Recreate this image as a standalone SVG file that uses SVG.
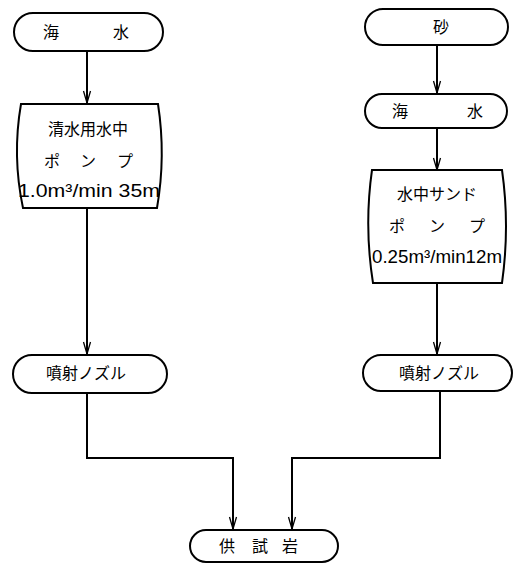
<svg xmlns="http://www.w3.org/2000/svg" width="516" height="563" viewBox="0 0 516 563">
<defs>
<style>
.box{fill:#fff;stroke:#000;stroke-width:2}
.ln{fill:none;stroke:#000;stroke-width:2}
.jp{font-family:"Noto Sans CJK JP","Noto Sans",sans-serif;font-size:16px;fill:#000;text-anchor:middle}
.num{font-family:"Liberation Sans","DejaVu Sans",sans-serif;font-size:18px;fill:#000}
</style>
<marker id="ah" markerUnits="userSpaceOnUse" markerWidth="16" markerHeight="12" viewBox="-14 -6 16 12" refX="0" refY="0" orient="auto">
<path d="M-12,-3.5 L0,0 L-12,3.5" fill="none" stroke="#000" stroke-width="1.3"/>
</marker>
</defs>
<rect width="516" height="563" fill="#fff"/>
<g id="connectors">
<line class="ln" x1="87" y1="51" x2="87" y2="103" marker-end="url(#ah)"/>
<line class="ln" x1="87" y1="208" x2="87" y2="354" marker-end="url(#ah)"/>
<polyline class="ln" points="87,393 87,458 233,458 233,529" marker-end="url(#ah)"/>
<line class="ln" x1="437" y1="45" x2="437" y2="93" marker-end="url(#ah)"/>
<line class="ln" x1="437" y1="128" x2="437" y2="170" marker-end="url(#ah)"/>
<line class="ln" x1="437" y1="283" x2="437" y2="354" marker-end="url(#ah)"/>
<polyline class="ln" points="440,391 440,458 292,458 292,529" marker-end="url(#ah)"/>
</g>
<g id="n1">
<rect class="box" x="14" y="13" width="149" height="38" rx="19"/>
<text class="jp" x="51" y="38">海</text>
<text class="jp" x="121" y="38">水</text>
</g>
<g id="n2">
<path class="box" d="M21,104 L158,104 Q166,156 157,208 L23,208 Q12,156 21,104 Z"/>
<text class="jp" x="88" y="135" font-size="17">清水用水中</text>
<text class="jp" x="52" y="167" font-size="17">ポ</text>
<text class="jp" x="88" y="167" font-size="17">ン</text>
<text class="jp" x="125" y="167" font-size="17">プ</text>
<text class="num" x="18" y="197" textLength="142" lengthAdjust="spacingAndGlyphs">1.0m³/min 35m</text>
</g>
<g id="n3">
<rect class="box" x="13" y="355" width="154" height="38" rx="19"/>
<text class="jp" x="86" y="379">噴射ノズル</text>
</g>
<g id="n4">
<rect class="box" x="365" y="9" width="143" height="36" rx="18"/>
<text class="jp" x="441" y="33">砂</text>
</g>
<g id="n5">
<rect class="box" x="365" y="94" width="142" height="34" rx="17"/>
<text class="jp" x="400" y="117">海</text>
<text class="jp" x="475" y="117">水</text>
</g>
<g id="n6">
<path class="box" d="M372,170 L502,170 Q510,226 502,283 L373,283 Q364,226 372,170 Z"/>
<text class="jp" x="437" y="200" font-size="17">水中サンド</text>
<text class="jp" x="397" y="232" font-size="17">ポ</text>
<text class="jp" x="437" y="232" font-size="17">ン</text>
<text class="jp" x="477" y="232" font-size="17">プ</text>
<text class="num" x="372" y="263" textLength="130" lengthAdjust="spacingAndGlyphs">0.25m³/min12m</text>
</g>
<g id="n7">
<rect class="box" x="363" y="355" width="149" height="36" rx="18"/>
<text class="jp" x="439" y="379">噴射ノズル</text>
</g>
<g id="n8">
<rect class="box" x="190" y="530" width="148" height="32" rx="16"/>
<text class="jp" x="227" y="552">供</text>
<text class="jp" x="260" y="552">試</text>
<text class="jp" x="290" y="552">岩</text>
</g>
</svg>
